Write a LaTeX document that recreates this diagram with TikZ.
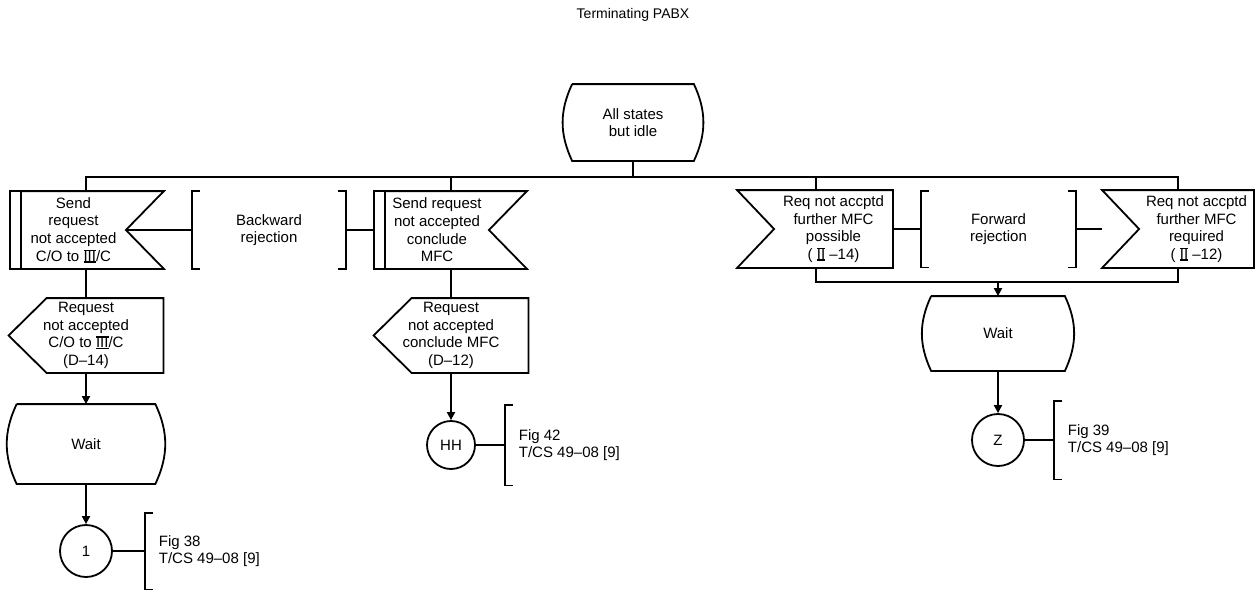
\documentclass[tikz,border=0pt]{standalone}
\usepackage{fontspec}
\setmainfont{Liberation Sans}
\usetikzlibrary{arrows.meta}

% roman numeral with bars above and below
\newsavebox{\rombox}
\newcommand{\romnum}[1]{\sbox{\rombox}{#1}%
  \makebox[0pt][l]{\rule[-0.15ex]{\wd\rombox}{0.15ex}}%
  \makebox[0pt][l]{\raisebox{\ht\rombox}{\rule{\wd\rombox}{0.15ex}}}%
  \usebox{\rombox}}

\begin{document}
\begin{tikzpicture}[x=1pt, y=-1pt, line width=1.8pt,
      font=\fontsize{15}{17.7}\selectfont,
      sdl/.style={rectangle, inner sep=0pt, align=center},
      conn/.style={circle, draw, minimum size=52pt, inner sep=0pt},
      note/.style={rectangle, inner sep=0pt, inner xsep=13pt, minimum height=77pt,
                   align=left, anchor=west},
      flow/.style={-{Triangle[length=8pt, width=8pt]}}]
      \useasboundingbox (0,0) rectangle (1257,590);

      \node (title) at (633,15) {\fontsize{14}{16}\selectfont Terminating PABX};

      % states
      \node[sdl, minimum width=120pt, minimum height=75pt] (start) at (633,122.5) {All states\\but idle};
      \node[sdl, minimum width=137pt, minimum height=78pt] (wait1) at (86,444) {Wait};
      \node[sdl, minimum width=132pt, minimum height=73pt] (waitr) at (998,333.5) {Wait};
      \foreach \s in {start,wait1,waitr}
        \draw (\s.north west) -- (\s.north east) to[bend left=25] (\s.south east)
              -- (\s.south west) to[bend left=25] (\s.north west);

      % inputs, notch on the right
      \node[sdl, minimum width=103pt, minimum height=76pt] (bw) at (73.5,230)
            {Send\\request\\not accepted\\C/O to \romnum{III}/C};
      \node[sdl, minimum width=102pt, minimum height=76pt] (concl) at (437,230)
            {Send request\\not accepted\\conclude\\MFC};
      \foreach \s in {bw,concl} {
        \draw ([xshift=-11pt]\s.north west) rectangle (\s.south west);
        \draw (\s.north west) -- ([xshift=38pt]\s.north east) -- (\s.east)
              -- ([xshift=38pt]\s.south east) -- (\s.south west);
      }

      % inputs, notch on the left
      \node[sdl, minimum width=117pt, minimum height=76pt] (poss) at (833.5,229)
            {Req not accptd\\further MFC\\possible\\( \romnum{II} --14)};
      \node[sdl, minimum width=113pt, minimum height=76pt] (reqd) at (1196.5,229)
            {Req not accptd\\further MFC\\required\\( \romnum{II} --12)};
      \foreach \s in {poss,reqd}
        \draw ([xshift=-37pt]\s.north west) -- (\s.north east) -- (\s.south east)
              -- ([xshift=-37pt]\s.south west) -- (\s.west) -- cycle;

      % comments
      \node[sdl, minimum width=152pt, minimum height=76pt] (back) at (269,230) {Backward\\rejection};
      \node[sdl, minimum width=153pt, minimum height=75pt] (fwd) at (998.5,229) {Forward\\rejection};
      \foreach \s in {back,fwd} {
        \draw ([xshift=8pt]\s.north west) -- (\s.north west) -- (\s.south west) -- ([xshift=8pt]\s.south west);
        \draw ([xshift=-8pt]\s.north east) -- (\s.north east) -- (\s.south east) -- ([xshift=-8pt]\s.south east);
      }

      % outputs
      \node[sdl, minimum width=153pt, minimum height=73pt] (out1) at (86,335.5)
            {Request\\not accepted\\C/O to \romnum{III}/C\\(D--14)};
      \node[sdl, minimum width=153pt, minimum height=73pt] (out2) at (451,335.5)
            {Request\\not accepted\\conclude MFC\\(D--12)};
      \foreach \s in {out1,out2}
        \draw ([xshift=38pt]\s.north west) -- (\s.north east) -- (\s.south east)
              -- ([xshift=38pt]\s.south west) -- (\s.west) -- cycle;

      % connectors to other figures
      \node[conn] (c1)  at (86,551)  {1};
      \node[conn, minimum size=48pt] (chh) at (451,445) {HH};
      \node[conn] (cz)  at (998,440) {Z};
      \node[note, minimum height=75pt] (fig38) at (145,551)  {Fig 38\\T/CS 49--08 [9]};
      \node[note, minimum height=79pt] (fig42) at (505,445)  {Fig 42\\T/CS 49--08 [9]};
      \node[note] (fig39) at (1054,440) {Fig 39\\T/CS 49--08 [9]};
      \foreach \s in {fig38,fig42,fig39}
        \draw ([xshift=8pt]\s.north west) -- (\s.north west) -- (\s.south west) -- ([xshift=8pt]\s.south west);

      % lines
      \coordinate (bus) at (633,177);
      \coordinate (merge) at (998,282);
      \draw (start.south) -- (bus);
      \draw ([xshift=12.5pt]bw.north) |- (bus) -| ([xshift=-18.5pt]reqd.north);
      \draw ([xshift=14pt]concl.north) -- ([xshift=14pt]concl.north |- bus);
      \draw ([xshift=-17.5pt]poss.north) -- ([xshift=-17.5pt]poss.north |- bus);

      \draw (bw.east) -- (back.west);
      \draw (back.east) -- ([xshift=-11pt]concl.west);
      \draw (poss.east) -- (fwd.west);
      \draw (fwd.east) -- ([xshift=-37pt]reqd.west);

      \draw ([xshift=12.5pt]bw.south) -- (out1.north);
      \draw[flow] (out1.south) -- (wait1.north);
      \draw[flow] (wait1.south) -- (c1.north);
      \draw (c1.east) -- (fig38.west);

      \draw ([xshift=14pt]concl.south) -- (out2.north);
      \draw[flow] (out2.south) -- (chh.north);
      \draw (chh.east) -- (fig42.west);

      \draw ([xshift=-17.5pt]poss.south) |- (merge) -| ([xshift=-18.5pt]reqd.south);
      \draw[flow] (merge) -- (waitr.north);
      \draw[flow] (waitr.south) -- (cz.north);
      \draw (cz.east) -- (fig39.west);
\end{tikzpicture}
\end{document}
